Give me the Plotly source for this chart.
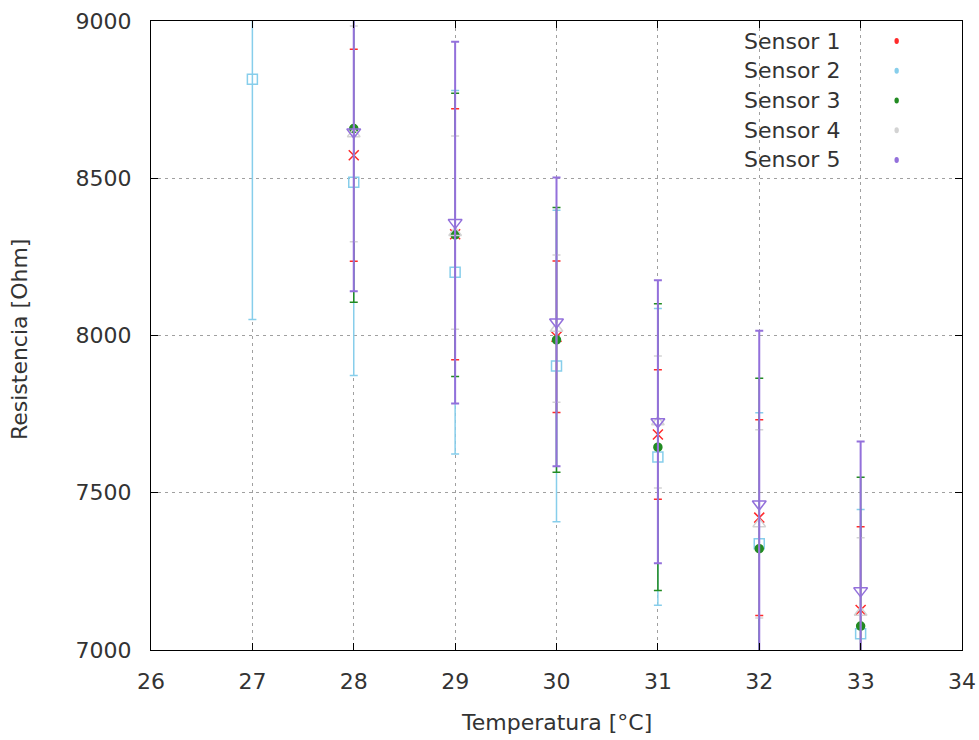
import plotly.graph_objects as go

# ---- data ----
temps_s1 = [28, 29, 30, 31, 32, 33]
res_s1 = [8573, 8322, 7996, 7685, 7421, 7127]
err_s1 = [337, 399, 241, 206, 311, 265]

temps_s2 = [27, 28, 29, 30, 31, 32, 33]
res_s2 = [8815, 8487, 8201, 7903, 7614, 7338, 7052]
err_s2 = [764, 614, 578, 495, 472, 416, 395]

temps_s3 = [28, 29, 30, 31, 32, 33]
res_s3 = [8658, 8320, 7986, 7645, 7322, 7076]
err_s3 = [552, 450, 421, 456, 542, 473]

temps_s4 = [28, 29, 30, 31, 32, 33]
res_s4 = [8641, 8327, 8022, 7725, 7401, 7119]
err_s4 = [343, 307, 234, 210, 299, 238]

temps_s5 = [28, 29, 30, 31, 32, 33]
res_s5 = [8647, 8359, 8043, 7726, 7464, 7188]
err_s5 = [506, 575, 459, 450, 551, 475]

names = ["Sensor 1", "Sensor 2", "Sensor 3", "Sensor 4", "Sensor 5"]
colors = ["#ff2a2a", "#87ceeb", "#228b22", "#d3d3d3", "#9370db"]
symbols = ["x-thin-open", "square-open", "circle", "triangle-up-open", "triangle-down-open"]
sizes = [10, 10, 8, 11, 12]
bar_w = [1.5, 1.5, 1.5, 1.5, 2]

series = [
    (temps_s1, res_s1, err_s1),
    (temps_s2, res_s2, err_s2),
    (temps_s3, res_s3, err_s3),
    (temps_s4, res_s4, err_s4),
    (temps_s5, res_s5, err_s5),
]

FONT = "DejaVu Sans"
TXT = "#333333"
FS = 22
fig = go.Figure()
for i, (xs, ys, es) in enumerate(series):
    fig.add_trace(go.Scatter(
        x=xs, y=ys, mode="markers", name=names[i], showlegend=False,
        marker=dict(symbol=symbols[i], size=sizes[i], color=colors[i],
                    line=dict(color=colors[i], width=1.5)),
        error_y=dict(type="data", array=es, visible=True, color=colors[i],
                     thickness=bar_w[i], width=4),
    ))

axis_common = dict(
    showline=True, linecolor="black", linewidth=1, mirror="allticks",
    ticks="inside", ticklen=7, tickcolor="black", tickwidth=1,
    showgrid=True, gridcolor="#a0a0a0", gridwidth=1, griddash="3px,4px",
    zeroline=False, tickfont=dict(family=FONT, size=FS, color=TXT),
    automargin=False,
)

fig.update_xaxes(range=[26, 34], dtick=1, ticklabelstandoff=12, **axis_common)
fig.update_yaxes(range=[7000, 9000], dtick=500, ticklabelstandoff=14, **axis_common)

annotations = [
    dict(text="Temperatura [°C]", xref="paper", yref="paper", x=0.5, y=-0.1146,
         xanchor="center", yanchor="middle", showarrow=False,
         font=dict(family=FONT, size=FS, color=TXT)),
    dict(text="Resistencia [Ohm]", xref="paper", yref="paper", x=-0.1622, y=0.495,
         xanchor="center", yanchor="middle", showarrow=False, textangle=-90,
         font=dict(family=FONT, size=FS, color=TXT)),
]
shapes = []
L, R, T, B = 151.5, 962.0, 21.5, 650.0
W, H = R - L, B - T
row_y = [41.5, 71.2, 100.9, 130.6, 160.3]
for i, nm in enumerate(names):
    yp = (B - row_y[i]) / H
    annotations.append(dict(text=nm, xref="paper", yref="paper", x=(742.5 - L) / W, y=yp,
                            xanchor="left", yanchor="middle", showarrow=False,
                            font=dict(family=FONT, size=FS, color=TXT)))
    cx = (896.7 - L) / W
    shapes.append(dict(type="circle", xref="paper", yref="paper",
                       x0=cx - 2.2 / W, x1=cx + 2.2 / W, y0=yp - 3 / H, y1=yp + 3 / H,
                       fillcolor=colors[i], line=dict(width=0)))

fig.update_layout(
    width=979, height=740,
    margin=dict(l=151, r=17, t=21, b=90, pad=0),
    plot_bgcolor="white", paper_bgcolor="white",
    showlegend=False,
    annotations=annotations, shapes=shapes,
    font=dict(family=FONT),
)

fig.write_html("out.html")
